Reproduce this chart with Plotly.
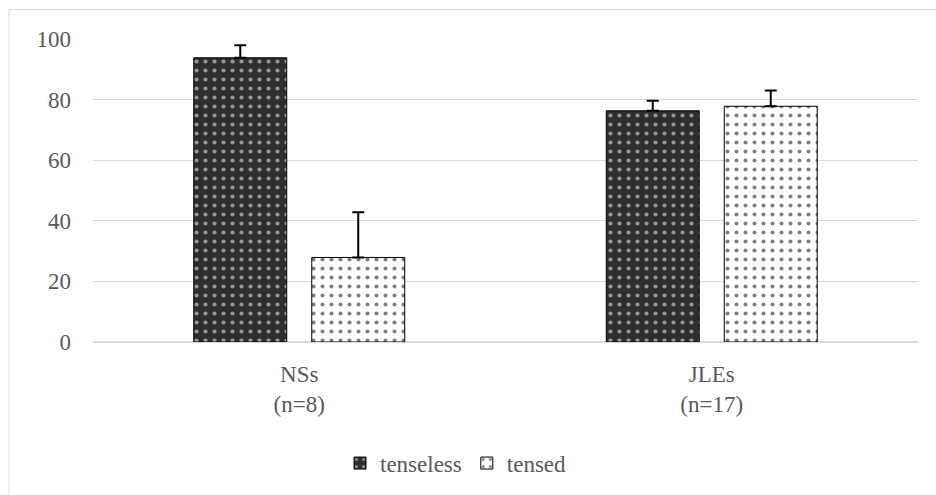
import plotly.graph_objects as go

# Group labels and conditions
categories = ["NSs<br>(n=8)", "JLEs<br>(n=17)"]
conditions = ["tenseless", "tensed"]

# Mean scores per condition and upper error bar length
tenseless_vals = [93.8, 76.3]
tenseless_err = [4.1, 3.3]
tensed_vals = [27.9, 77.8]
tensed_err = [14.9, 5.2]

y_ticks = [0, 20, 40, 60, 80, 100]

W, H = 936, 495
ML, MR, MT, MB = 93, 18, 38.5, 151.5
pw, ph = W - ML - MR, H - MT - MB

FONT = "Liberation Serif"
FS = 23
GREY = "#595959"

fig = go.Figure()

styles = {
    "tenseless": dict(shape=".", fgcolor="white", bgcolor="#2e2e2e", size=9, solidity=0.17),
    "tensed": dict(shape=".", fgcolor="black", bgcolor="white", size=9, solidity=0.16),
}

for name, vals, err in [
    ("tenseless", tenseless_vals, tenseless_err),
    ("tensed", tensed_vals, tensed_err),
]:
    fig.add_trace(go.Bar(
        name=name,
        x=categories,
        y=vals,
        marker=dict(color="white", line=dict(color="black", width=1),
                    pattern=styles[name]),
        error_y=dict(type="data", array=err, arrayminus=[0] * len(err),
                     symmetric=False, color="black", thickness=2, width=6),
    ))

# Chart-area border
def px_x(p):
    return (p - ML) / pw

def px_y(p):
    return (H - MB - p) / ph

fig.add_shape(type="rect", xref="paper", yref="paper",
              x0=px_x(9), x1=px_x(W + 10), y0=px_y(H + 10), y1=px_y(9),
              line=dict(color="#d9d9d9", width=1), fillcolor="rgba(0,0,0,0)",
              layer="below")

fig.update_layout(
    width=W, height=H,
    margin=dict(l=ML, r=MR, t=MT, b=MB),
    paper_bgcolor="white", plot_bgcolor="white",
    barmode="group", bargap=0.428, bargroupgap=0.212,
    font=dict(family=FONT, size=FS, color=GREY),
    showlegend=True,
    legend=dict(orientation="h", x=0.44, xanchor="center",
                y=px_y(464), yanchor="middle",
                font=dict(family=FONT, size=FS, color=GREY),
                itemwidth=30, tracegroupgap=0),
    xaxis=dict(showline=True, linecolor="#d9d9d9", linewidth=1,
               ticks="", ticklabelstandoff=11,
               tickfont=dict(family=FONT, size=FS, color=GREY),
               showgrid=False),
    yaxis=dict(range=[0, 100], tickvals=y_ticks, showgrid=True,
               gridcolor="#d9d9d9", gridwidth=1, zeroline=True,
               zerolinecolor="#d9d9d9", showline=False,
               ticks="", ticklabelstandoff=21,
               tickfont=dict(family=FONT, size=FS, color=GREY)),
)

fig.write_html("out.html")
